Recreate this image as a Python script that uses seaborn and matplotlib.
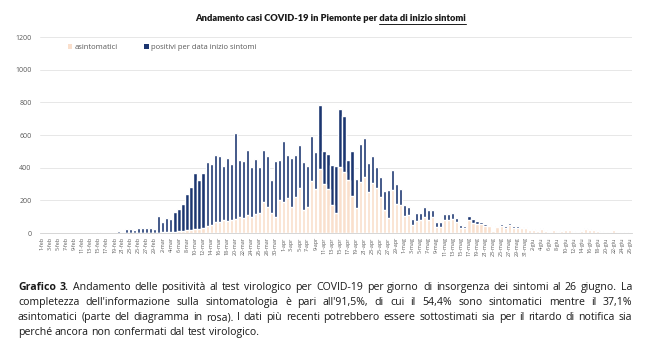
import pandas as pd
import matplotlib.pyplot as plt
import seaborn as sns
from matplotlib.patches import Patch
from matplotlib.lines import Line2D

# totale positivi per data inizio sintomi (1 feb -> 26 giu)
totale = [0, 0, 0, 0, 0, 0, 0, 0, 0, 2,
          0, 3, 2, 0, 4, 2, 3, 1, 3, 15,
          3, 24, 24, 20, 30, 28, 32, 30, 26, 105,
          70, 90, 86, 126, 147, 176, 236, 283, 368, 323,
          368, 434, 420, 475, 471, 410, 460, 420, 612, 448,
          438, 509, 404, 452, 404, 509, 471, 323, 440, 450,
          566, 475, 458, 479, 539, 434, 408, 596, 495, 784,
          503, 485, 414, 408, 758, 717, 444, 499, 333, 545,
          580, 428, 471, 404, 343, 259, 263, 388, 300, 267,
          172, 162, 87, 125, 121, 162, 140, 143, 70, 68,
          117, 119, 125, 91, 47, 45, 107, 83, 75, 68,
          58, 52, 14, 45, 55, 42, 63, 40, 40, 34,
          36, 20, 24, 20, 30, 16, 8, 20, 12, 16,
          20, 20, 12, 8, 16, 28, 24, 20, 16, 12,
          8, 8, 20, 8, 4, 4, 2]

# di cui asintomatici (parte in rosa)
asintomatici = [0, 0, 0, 0, 0, 0, 0, 0, 0, 0,
                0, 0, 0, 0, 0, 0, 0, 0, 0, 0,
                0, 1, 1, 1, 2, 2, 2, 2, 2, 3,
                4, 5, 6, 8, 10, 12, 16, 18, 22, 24,
                30, 40, 50, 70, 65, 81, 75, 77, 85, 101,
                91, 111, 101, 117, 121, 192, 162, 121, 101, 202,
                192, 212, 162, 222, 273, 141, 162, 319, 267, 390,
                299, 269, 172, 125, 404, 374, 327, 226, 152, 313,
                343, 253, 307, 273, 218, 141, 91, 265, 175, 170,
                105, 110, 48, 75, 80, 100, 82, 100, 38, 36,
                77, 81, 85, 65, 30, 30, 81, 61, 57, 55,
                44, 40, 10, 34, 40, 30, 50, 32, 30, 28,
                28, 16, 18, 15, 24, 12, 6, 16, 9, 12,
                16, 16, 9, 6, 12, 22, 18, 16, 12, 9,
                6, 6, 16, 6, 3, 3, 2]

mesi = {2: 'feb', 3: 'mar', 4: 'apr', 5: 'mag', 6: 'giu'}
giorni = pd.date_range('2020-02-01', '2020-06-26')
etichette = [f"{d.day}-{mesi[d.month]}" for d in giorni]

didascalia = [
    "Grafico 3. Andamento delle positività al test virologico per COVID-19 per giorno di insorgenza dei sintomi al 26 giugno. La",
    "completezza dell'informazione sulla sintomatologia è pari all'91,5%, di cui il 54,4% sono sintomatici mentre il 37,1%",
    "asintomatici (parte del diagramma in rosa). I dati più recenti potrebbero essere sottostimati sia per il ritardo di notifica sia",
    "perché ancora non confermati dal test virologico.",
]

df = pd.DataFrame({'giorno': etichette, 'totale': totale, 'asintomatici': asintomatici})

navy = '#1c3670'
pink = '#fadfcc'
grey = '#595959'

sns.set_style('white')
plt.rcParams['font.family'] = ['Open Sans', 'DejaVu Sans']

fig = plt.figure(figsize=(6.5, 3.55), dpi=100)
ax = fig.add_axes([40 / 650, 1 - 233 / 355, 592 / 650, 196 / 355])

sns.barplot(data=df, x='giorno', y='totale', color=navy, saturation=1,
            width=0.8, errorbar=None, ax=ax)
sns.barplot(data=df, x='giorno', y='asintomatici', color=pink, saturation=1,
            width=0.8, errorbar=None, ax=ax)

ax.set_xlim(-0.5, len(etichette) - 0.5)
ax.set_ylim(0, 1200)
ax.set_yticks(range(0, 1201, 200))
ax.tick_params(axis='y', labelsize=5, colors=grey, length=0, pad=6)
ax.set_xticks(range(0, len(etichette), 2))
ax.set_xticklabels(etichette[::2], rotation=90, fontsize=3.9, color=grey)
ax.tick_params(axis='x', length=0, pad=3)
ax.set_xlabel('')
ax.set_ylabel('')
ax.yaxis.grid(True, color='#e3e3e3', linewidth=0.6)
ax.set_axisbelow(True)
for s in ['top', 'right', 'left']:
    ax.spines[s].set_visible(False)
ax.spines['bottom'].set_color('#d0d0d0')
ax.spines['bottom'].set_linewidth(0.6)

handles = [Patch(facecolor=pink, edgecolor='none', label='asintomatici'),
           Patch(facecolor=navy, edgecolor='none', label='positivi per data inizio sintomi')]
ax.legend(handles=handles, loc='upper left', bbox_to_anchor=(0.035, 1.0), ncol=2,
          frameon=False, fontsize=5.5, handlelength=0.6, handleheight=0.6,
          handletextpad=0.3, columnspacing=3.5, labelcolor=grey)

# titolo con parte sottolineata
renderer = fig.canvas.get_renderer()
tit = fig.text(0.508, 1 - 21 / 355, "Andamento casi COVID-19 in Piemonte per data di inizio sintomi",
               ha='center', va='baseline', fontsize=6.7, fontweight='heavy',
               color='#1a1a1a', family=['Lato', 'DejaVu Sans'])
parte = fig.text(0, 0, "data di inizio sintomi", fontsize=6.7, fontweight='heavy',
                 family=['Lato', 'DejaVu Sans'])
bb = tit.get_window_extent(renderer)
wp = parte.get_window_extent(renderer).width
parte.remove()
yline = (1 - 23.5 / 355)
fig.add_artist(Line2D([(bb.x1 - wp) / 650, bb.x1 / 650], [yline, yline],
                      color='#1a1a1a', linewidth=0.7))

# didascalia giustificata
x0, x1 = 18, 632
for i, riga in enumerate(didascalia):
    y = 1 - (290 + 15 * i) / 355
    parole = riga.split(' ')
    testi = []
    for j, p in enumerate(parole):
        bold = (i == 0 and j < 2)
        testi.append(fig.text(0, y, p, fontsize=7.6, va='baseline', color='#1a1a1a',
                              fontweight='bold' if bold else 'normal'))
    larg = [t.get_window_extent(renderer).width for t in testi]
    if i < len(didascalia) - 1:
        gap = (x1 - x0 - sum(larg)) / (len(parole) - 1)
    else:
        gap = 2.7
    x = x0
    for t, w in zip(testi, larg):
        t.set_x(x / 650)
        x += w + gap

fig.savefig('out.png', dpi=100)
